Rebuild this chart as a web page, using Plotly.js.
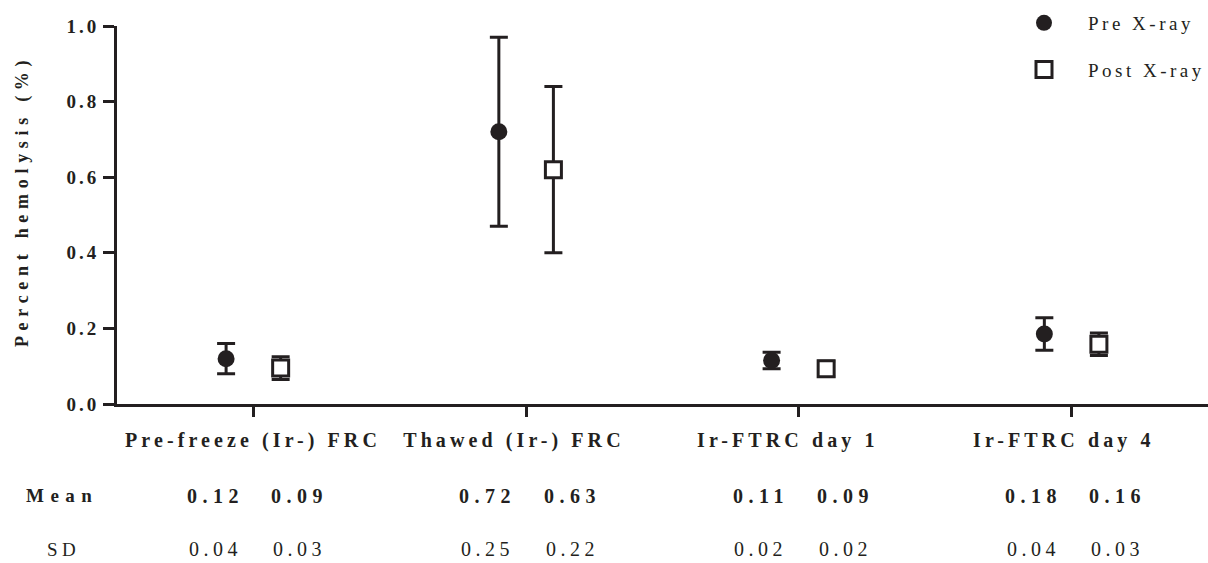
<!DOCTYPE html>
<html>
<head>
<meta charset="utf-8">
<script src="https://cdn.plot.ly/plotly-3.0.1.min.js"></script>
<style>
  html, body { margin: 0; padding: 0; background: #ffffff; }
  #chart { width: 1208px; height: 563px; }
  .ytick text { letter-spacing: 3px; }
  .legendtext { letter-spacing: 3.5px; }
  text.annotation-text { letter-spacing: 4.5px; }
  text.annotation-text[style*="bold"] { letter-spacing: 5.5px; }
  g.annotation[data-index="0"] text { letter-spacing: 5.7px; }
  g.annotation[data-index="1"] text { letter-spacing: 6.5px; }
  g.annotation[data-index="3"] text,
  g.annotation[data-index="4"] text,
  g.annotation[data-index="5"] text,
  g.annotation[data-index="6"] text { letter-spacing: 4.1px; }
</style>
</head>
<body>
<div id="chart"></div>
<script>
// ---- data ----
const categories = ['Pre-freeze (Ir-) FRC', 'Thawed (Ir-) FRC', 'Ir-FTRC day 1', 'Ir-FTRC day 4'];
const preMean  = [0.12, 0.72, 0.115, 0.185];
const preSD    = [0.04, 0.25, 0.022, 0.043];
const postMean = [0.095, 0.62, 0.093, 0.158];
const postSD   = [0.03, 0.22, 0.02, 0.03];
const tableMeanPre  = ['0.12', '0.72', '0.11', '0.18'];
const tableMeanPost = ['0.09', '0.63', '0.09', '0.16'];
const tableSDPre    = ['0.04', '0.25', '0.02', '0.04'];
const tableSDPost   = ['0.03', '0.22', '0.02', '0.03'];
const yTicks = [0, 0.2, 0.4, 0.6, 0.8, 1.0];

// ---- style ----
const ink = '#231f20';
const serif = 'Liberation Serif, Times New Roman, serif';
const idx = categories.map((c, i) => i);
const dodge = 0.1;
// horizontal nudge (category units) of each category label, as laid out in the source figure
const labelShift = [0.0, -0.045, -0.04, -0.028];

const tracePre = {
  type: 'scatter', mode: 'markers', name: 'Pre X-ray', legendgroup: 'pre',
  x: idx.map(i => i - dodge), y: preMean,
  error_y: { type: 'data', array: preSD, visible: true, color: ink, thickness: 3, width: 9 },
  marker: { symbol: 'circle', size: 17, color: ink },
  hoverinfo: 'skip'
};
const tracePost = {
  type: 'scatter', mode: 'markers', name: 'Post X-ray', legendgroup: 'post',
  x: idx.map(i => i + dodge), y: postMean,
  error_y: { type: 'data', array: postSD, visible: true, color: ink, thickness: 3, width: 9 },
  marker: { symbol: 'square', size: 16, color: '#ffffff', line: { color: ink, width: 3 } },
  hoverinfo: 'skip'
};

const plotTop = 26, plotBottom = 404, plotH = plotBottom - plotTop;
const plotLeft = 117, plotW = 1208 - plotLeft;
const pyToPaper = py => (plotBottom - py) / plotH;
const pxToPaper = px => (px - plotLeft) / plotW;

const annotations = [];
const rowMeanY = pyToPaper(496);
const rowSDY = pyToPaper(549);
const rowCatY = pyToPaper(440);
// 0: y-axis title as rotated annotation
annotations.push({ text: 'Percent hemolysis (%)', textangle: -90, xref: 'paper', x: pxToPaper(23), xanchor: 'center',
  yref: 'paper', y: pyToPaper(201), yanchor: 'middle', showarrow: false,
  font: { family: serif, size: 18, color: ink, weight: 'bold' } });
// 1, 2: row headers
annotations.push({ text: 'Mean', xref: 'paper', x: pxToPaper(62), xanchor: 'center', yref: 'paper', y: rowMeanY, yanchor: 'middle',
  showarrow: false, font: { family: serif, size: 19, color: ink, weight: 'bold' } });
annotations.push({ text: 'SD', xref: 'paper', x: pxToPaper(63), xanchor: 'center', yref: 'paper', y: rowSDY, yanchor: 'middle',
  showarrow: false, font: { family: serif, size: 19, color: ink } });
// 3..6: category labels
idx.forEach(i => {
  annotations.push({ text: categories[i], xref: 'x', x: i + labelShift[i], xanchor: 'center', yref: 'paper', y: rowCatY,
    yanchor: 'middle', showarrow: false, font: { family: serif, size: 20, color: ink, weight: 'bold' } });
});
// table values
idx.forEach(i => {
  annotations.push({ text: tableMeanPre[i], xref: 'x', x: i - 0.14, yref: 'paper', y: rowMeanY, yanchor: 'middle', showarrow: false,
    font: { family: serif, size: 20, color: ink, weight: 'bold' } });
  annotations.push({ text: tableMeanPost[i], xref: 'x', x: i + 0.17, yref: 'paper', y: rowMeanY, yanchor: 'middle', showarrow: false,
    font: { family: serif, size: 20, color: ink, weight: 'bold' } });
  annotations.push({ text: tableSDPre[i], xref: 'x', x: i - 0.14, yref: 'paper', y: rowSDY, yanchor: 'middle', showarrow: false,
    font: { family: serif, size: 20, color: ink } });
  annotations.push({ text: tableSDPost[i], xref: 'x', x: i + 0.17, yref: 'paper', y: rowSDY, yanchor: 'middle', showarrow: false,
    font: { family: serif, size: 20, color: ink } });
});

const layout = {
  width: 1208, height: 563,
  margin: { l: plotLeft, r: 0, t: plotTop, b: 563 - plotBottom, pad: 0, autoexpand: false },
  paper_bgcolor: '#ffffff', plot_bgcolor: '#ffffff',
  showlegend: true,
  legend: {
    xref: 'container', yref: 'container',
    x: 1000 / 1208, xanchor: 'left', y: 1 - 4 / 563, yanchor: 'top',
    font: { family: serif, size: 19, color: ink },
    itemwidth: 78, tracegroupgap: 19, traceorder: 'grouped', bgcolor: 'rgba(0,0,0,0)'
  },
  xaxis: {
    range: [-0.5, 3.5], tickmode: 'array', tickvals: idx, showticklabels: false,
    showline: true, linewidth: 3, linecolor: ink, ticks: 'outside', ticklen: 10, tickwidth: 3, tickcolor: ink,
    showgrid: false, zeroline: false, fixedrange: true, automargin: false
  },
  yaxis: {
    range: [0, 1], tickmode: 'array', tickvals: yTicks, ticktext: yTicks.map(v => v.toFixed(1)),
    showline: true, linewidth: 3, linecolor: ink, ticks: 'outside', ticklen: 11, tickwidth: 3, tickcolor: ink,
    showgrid: false, zeroline: false, fixedrange: true, automargin: false,
    tickfont: { family: serif, size: 19, color: ink, weight: 'bold' }
  },
  annotations: annotations
};

Plotly.newPlot('chart', [tracePre, tracePost], layout, { displayModeBar: false, staticPlot: true });
</script>
</body>
</html>
